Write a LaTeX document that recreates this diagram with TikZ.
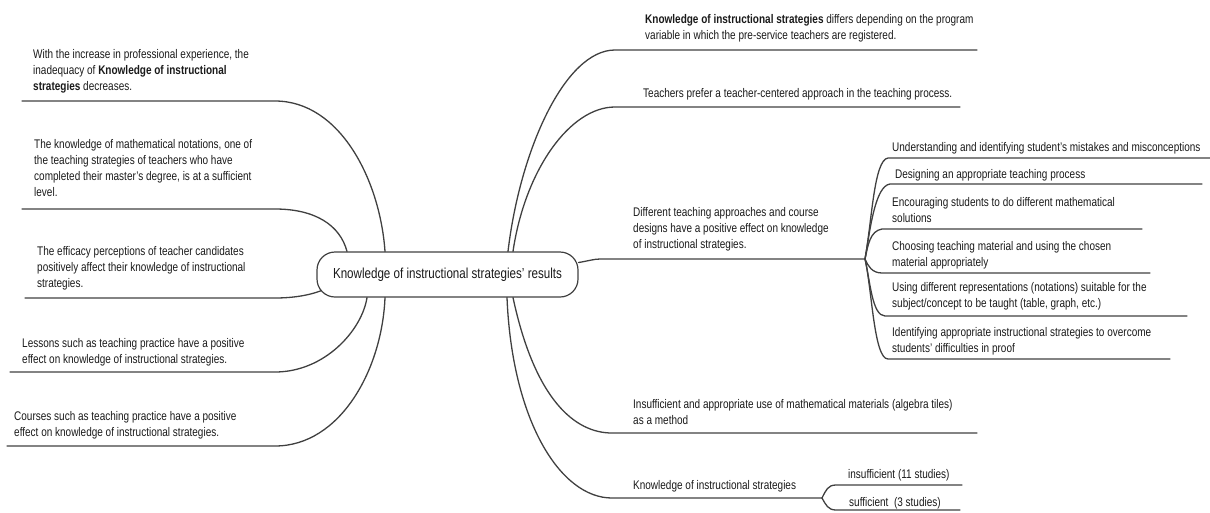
\documentclass[tikz,border=0pt]{standalone}
\usepackage{fontspec}
\setmainfont{Liberation Sans}[FakeStretch=0.80]
\usetikzlibrary{calc}
\definecolor{linegray}{HTML}{404040}
\definecolor{ink}{HTML}{1A1A1A}

\begin{document}
\begin{tikzpicture}[x=1pt,y=-1pt,
  branch/.style={draw=linegray, line width=1.3pt, line cap=round},
  note/.style={anchor=north west, inner sep=0pt, align=left, text=ink,
    font=\fontsize{12.5}{16}\selectfont},
  root/.style={draw=linegray, line width=1.2pt, rounded corners=18pt,
    minimum width=261pt, minimum height=45pt, inner sep=0pt, text=ink,
    font=\fontsize{14.5}{16}\selectfont}]
\useasboundingbox (0,0) rectangle (1210,512);

% central topic
\node[root] (c) at (447.5,274.5) {Knowledge of instructional strategies' results};

% attachment points on the central topic
\coordinate (cl1) at ($(c.north)+(-62.5,0)$);
\coordinate (cl2) at ($(c.north)+(-100.5,0)$);
\coordinate (cl3) at ($(c.south west)+(5,-7)$);
\coordinate (cl4) at ($(c.south)+(-80.5,0)$);
\coordinate (cl5) at ($(c.south)+(-62.5,0)$);
\coordinate (cr1) at ($(c.north)+(60.5,0)$);
\coordinate (cr2) at ($(c.north)+(65.5,0)$);
\coordinate (cr3) at ($(c.east)+(0,-12)$);
\coordinate (cr4) at ($(c.south)+(65.5,0)$);
\coordinate (cr5) at ($(c.south)+(59.5,0)$);

% ---------- left branches ----------
\node[note] (l1) at (33,49) {With the increase in professional experience, the\\
  inadequacy of \textbf{Knowledge of instructional}\\ \textbf{strategies} decreases.};
\coordinate (l1a) at (275,101); \coordinate (l1b) at (22,101);
\draw[branch] (cl1) .. controls (380,180) and (340,101) .. (l1a) -- (l1b);

\node[note] (l2) at (34,139) {The knowledge of mathematical notations, one of\\
  the teaching strategies of teachers who have\\
  completed their master's degree, is at a sufficient\\ level.};
\coordinate (l2a) at (275,209); \coordinate (l2b) at (22,209);
\draw[branch] (cl2) .. controls (340,225) and (315,209) .. (l2a) -- (l2b);

\node[note] (l3) at (37,246) {The efficacy perceptions of teacher candidates\\
  positively affect their knowledge of instructional\\ strategies.};
\coordinate (l3a) at (275,298); \coordinate (l3b) at (25,298);
\draw[branch] (cl3) .. controls (315,293) and (300,298) .. (l3a) -- (l3b);

\node[note] (l4) at (22,338) {Lessons such as teaching practice have a positive\\
  effect on knowledge of instructional strategies.};
\coordinate (l4a) at (275,372); \coordinate (l4b) at (10,372);
\draw[branch] (cl4) .. controls (362,330) and (325,372) .. (l4a) -- (l4b);

\node[note] (l5) at (14,411) {Courses such as teaching practice have a positive\\
  effect on knowledge of instructional strategies.};
\coordinate (l5a) at (275,446); \coordinate (l5b) at (7,446);
\draw[branch] (cl5) .. controls (382,370) and (340,446) .. (l5a) -- (l5b);

% ---------- right branches ----------
\node[note] (r1) at (645,14) {\textbf{Knowledge of instructional strategies} differs depending on the program\\
  variable in which the pre-service teachers are registered.};
\coordinate (r1a) at (615,50); \coordinate (r1b) at (977,50);
\draw[branch] (cr1) .. controls (520,150) and (565,50) .. (r1a) -- (r1b);

\node[note] (r2) at (643,88) {Teachers prefer a teacher-centered approach in the teaching process.};
\coordinate (r2a) at (615,107); \coordinate (r2b) at (960,107);
\draw[branch] (cr2) .. controls (525,170) and (570,107) .. (r2a) -- (r2b);

\node[note] (r3) at (633,207) {Different teaching approaches and course\\
  designs have a positive effect on knowledge\\ of instructional strategies.};
\coordinate (r3a) at (600,259); \coordinate (h3) at (865,259);
\draw[branch] (cr3) .. controls (588,261) and (594,259) .. (r3a) -- (h3);

\node[note] (r4) at (633,399) {Insufficient and appropriate use of mathematical materials (algebra tiles)\\
  as a method};
\coordinate (r4a) at (612,433); \coordinate (r4b) at (977,433);
\draw[branch] (cr4) .. controls (535,400) and (575,433) .. (r4a) -- (r4b);

\node[note] (r5) at (633,480) {Knowledge of instructional strategies};
\coordinate (r5a) at (612,498); \coordinate (h5) at (822,498);
\draw[branch] (cr5) .. controls (512,420) and (560,498) .. (r5a) -- (h5);

% ---------- sub-branches of the teaching-approaches topic ----------
\node[note] (s1) at (892,142) {Understanding and identifying student's mistakes and misconceptions};
\coordinate (s1a) at (888,158); \coordinate (s1b) at (1210,158);
\draw[branch] (h3) .. controls (872,220) and (874,160) .. (s1a) -- (s1b);

\node[note] (s2) at (895,169) {Designing an appropriate teaching process};
\coordinate (s2a) at (890,184); \coordinate (s2b) at (1202,184);
\draw[branch] (h3) .. controls (870,230) and (875,186) .. (s2a) -- (s2b);

\node[note] (s3) at (892,197) {Encouraging students to do different mathematical\\ solutions};
\coordinate (s3a) at (882,229); \coordinate (s3b) at (1142,229);
\draw[branch] (h3) .. controls (868,245) and (870,231) .. (s3a) -- (s3b);

\node[note] (s4) at (892,241) {Choosing teaching material and using the chosen\\ material appropriately};
\coordinate (s4a) at (882,273); \coordinate (s4b) at (1150,273);
\draw[branch] (h3) .. controls (868,266) and (872,273) .. (s4a) -- (s4b);

\node[note] (s5) at (892,282) {Using different representations (notations) suitable for the\\
  subject/concept to be taught (table, graph, etc.)};
\coordinate (s5a) at (885,316); \coordinate (s5b) at (1187,316);
\draw[branch] (h3) .. controls (870,280) and (872,316) .. (s5a) -- (s5b);

\node[note] (s6) at (892,327) {Identifying appropriate instructional strategies to overcome\\
  students' difficulties in proof};
\coordinate (s6a) at (888,359); \coordinate (s6b) at (1170,359);
\draw[branch] (h3) .. controls (872,290) and (874,359) .. (s6a) -- (s6b);

% ---------- sub-branches of the last topic ----------
\node[note] (k1) at (848,469) {insufficient (11 studies)};
\coordinate (k1a) at (836,485); \coordinate (k1b) at (962,485);
\draw[branch] (h5) .. controls (826,490) and (828,485) .. (k1a) -- (k1b);

\node[note] (k2) at (849,497) {sufficient\ \ (3 studies)};
\coordinate (k2a) at (836,510); \coordinate (k2b) at (960,510);
\draw[branch] (h5) .. controls (826,505) and (828,510) .. (k2a) -- (k2b);
\end{tikzpicture}
\end{document}
